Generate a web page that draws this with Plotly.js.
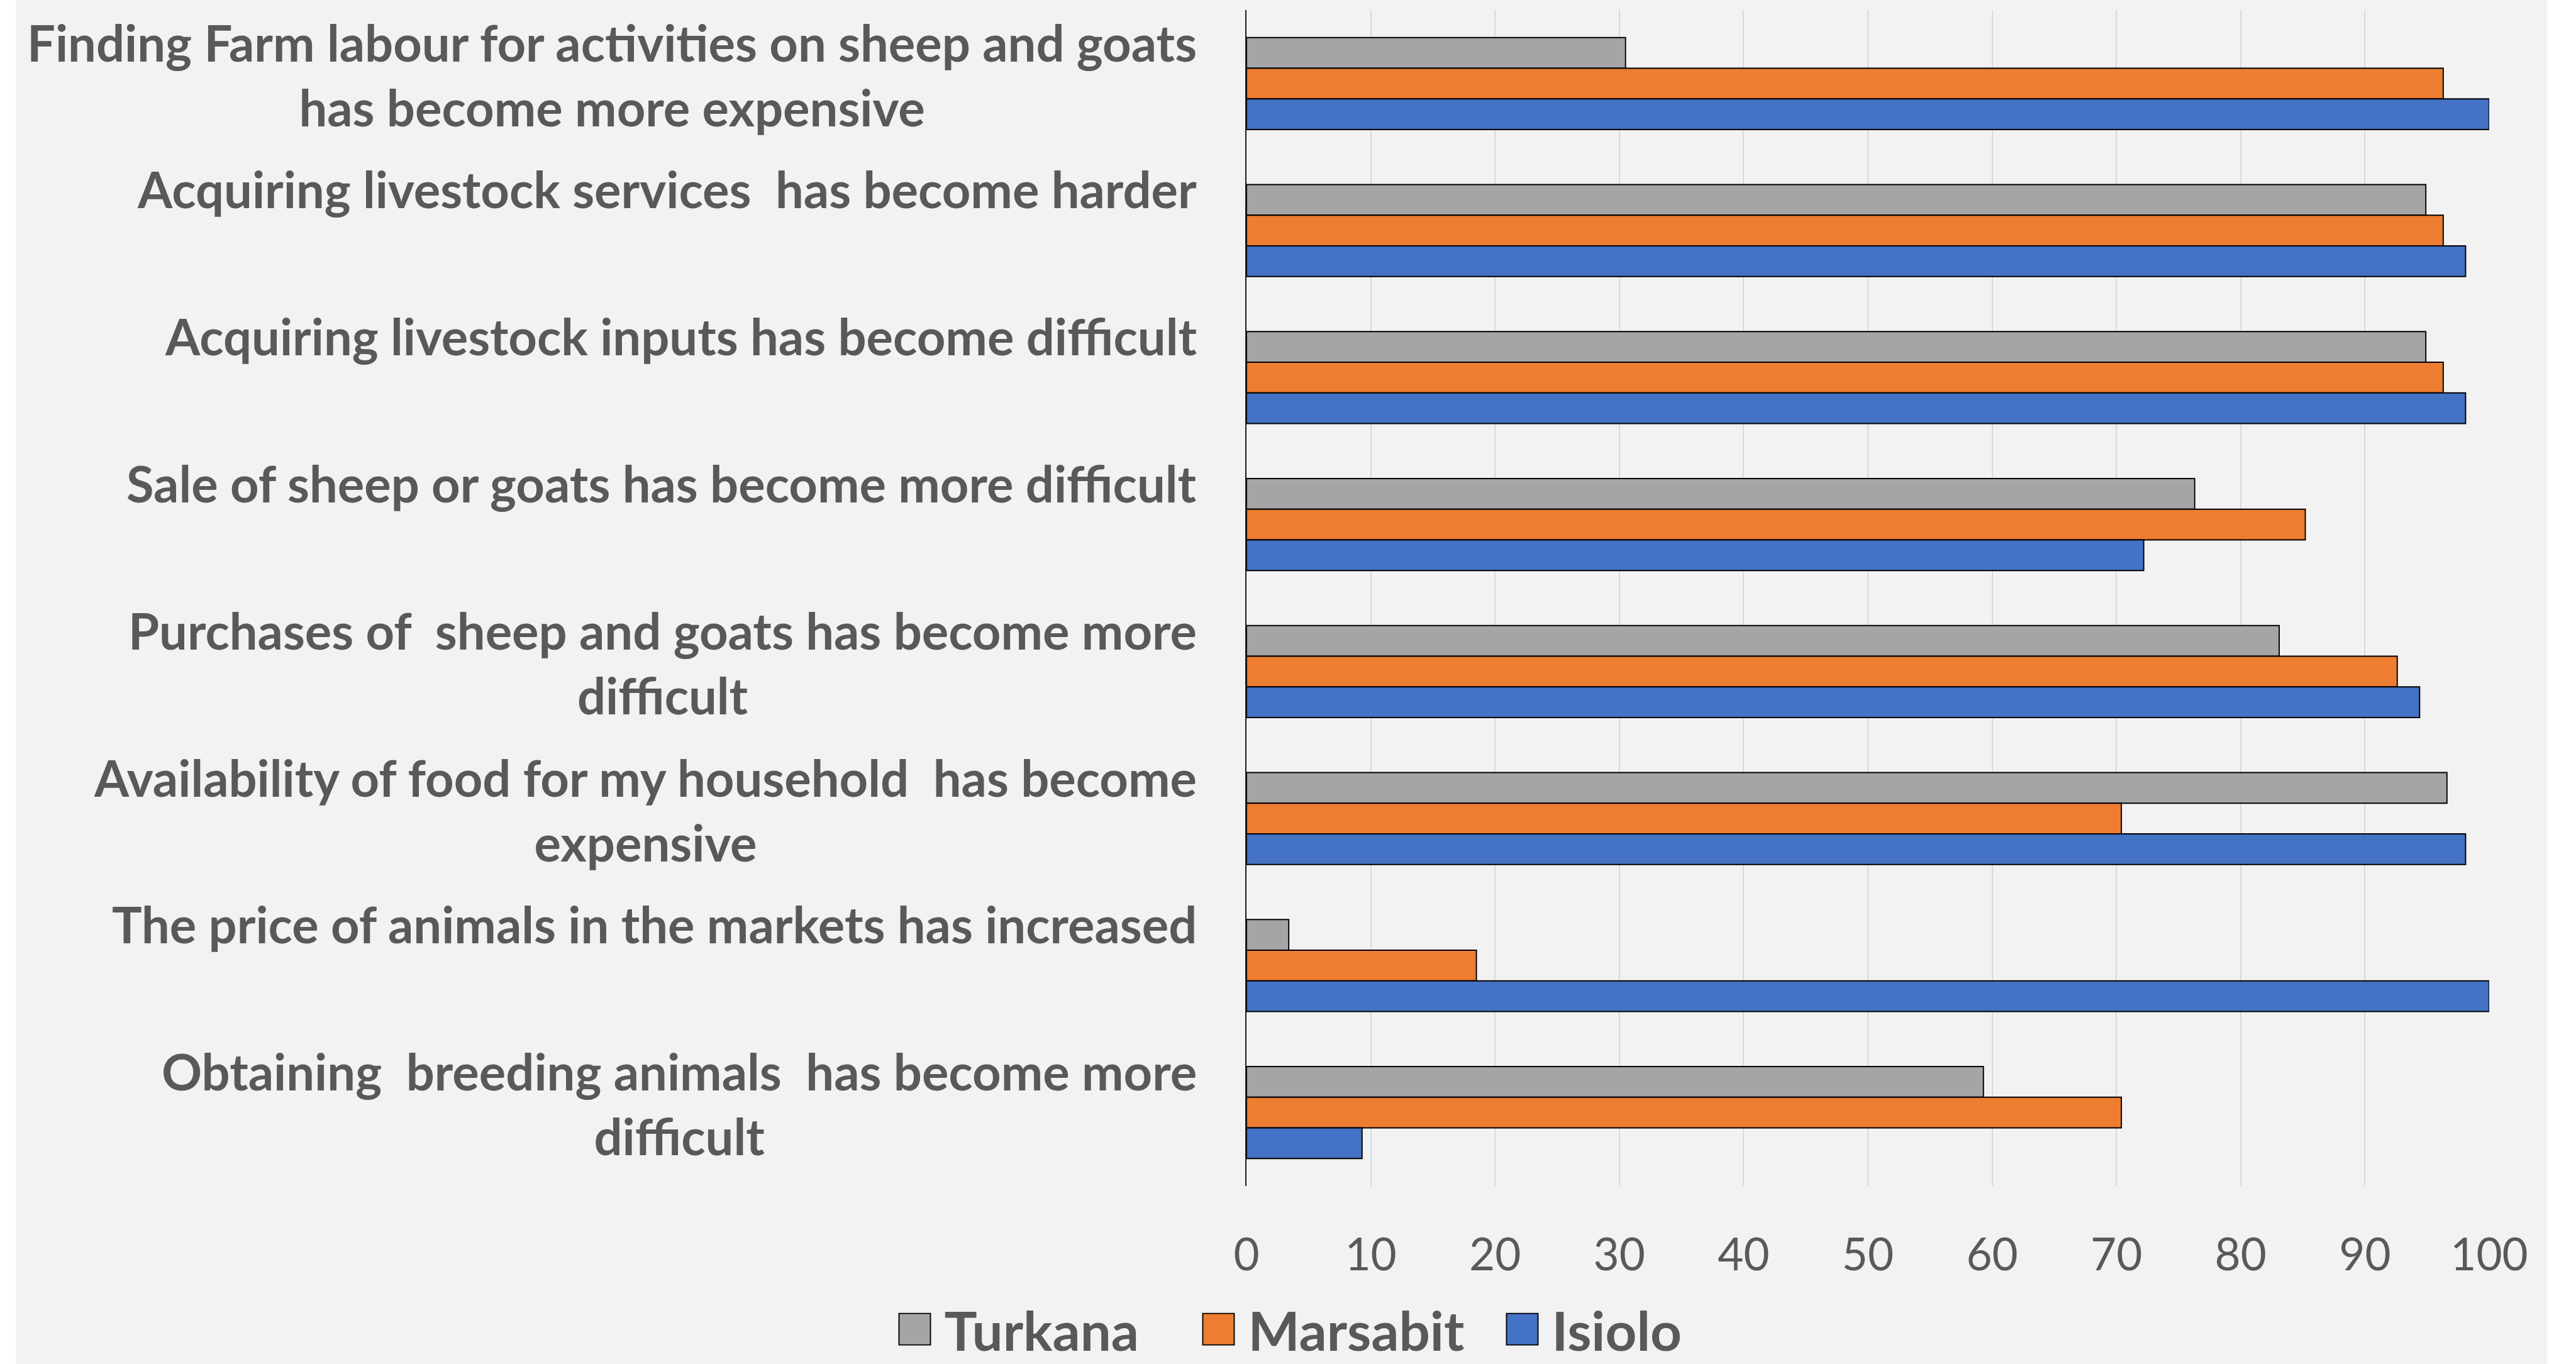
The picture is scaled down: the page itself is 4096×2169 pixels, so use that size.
<!DOCTYPE html>
<html>
<head>
<meta charset="utf-8">
<script src="https://cdn.plot.ly/plotly-3.0.1.min.js"></script>
<style>
  html, body { margin: 0; padding: 0; background: #ffffff; }
  #chart { width: 4096px; height: 2169px; }
</style>
</head>
<body>
<div id="chart"></div>
<script>
// ---- Data ----
const categories = [
  "Finding Farm labour for activities on sheep and goats<br>has become more expensive",
  "Acquiring livestock services  has become harder",
  "Acquiring livestock inputs has become difficult",
  "Sale of sheep or goats has become more difficult",
  "Purchases of  sheep and goats has become more<br>difficult",
  "Availability of food for my household  has become<br>expensive",
  "The price of animals in the markets has increased",
  "Obtaining  breeding animals  has become more<br>difficult"
];
const seriesNames = ["Turkana", "Marsabit", "Isiolo"];
const turkana  = [30.5, 94.9, 94.9, 76.3, 83.1, 96.6, 3.4, 59.3];
const marsabit = [96.3, 96.3, 96.3, 85.2, 92.6, 70.4, 18.5, 70.4];
const isiolo   = [100, 98.1, 98.1, 72.2, 94.4, 98.1, 100, 9.3];
const xTickValues = [0, 10, 20, 30, 40, 50, 60, 70, 80, 90, 100];

// ---- Styling ----
const colors = ["#A5A5A5", "#ED7D31", "#4472C4"];
const textGray = "#595959";
const FONT = "Lato, 'Open Sans', sans-serif";

const seriesValues = [turkana, marsabit, isiolo];
const traces = seriesNames.map((name, i) => ({
  type: "bar",
  orientation: "h",
  name: name,
  y: categories,
  x: seriesValues[i],
  marker: { color: colors[i], line: { color: "#000000", width: 1.9 } },
  hoverinfo: "x+y+name"
}));

// Category labels as annotations (right-aligned block, lines centred, like the source)
const annotations = categories.map(c => {
  const twoLines = c.indexOf("<br>") >= 0;
  return {
    xref: "paper", yref: "y",
    x: 0, y: c,
    xanchor: "right", yanchor: "middle",
    xshift: -77,
    yshift: twoLines ? 14 : 66,
    align: "center",
    showarrow: false,
    text: c,
    font: { family: FONT, size: 79.5, color: textGray, weight: 700 }
  };
});

const layout = {
  width: 4096,
  height: 2169,
  paper_bgcolor: "#ffffff",
  plot_bgcolor: "#F2F2F2",
  margin: { l: 1982, r: 138, t: 16, b: 283, autoexpand: false },
  barmode: "group",
  bargap: 0.374,
  bargroupgap: 0,
  showlegend: true,
  legend: {
    orientation: "h",
    xref: "container", yref: "container",
    x: 0.5205, xanchor: "center",
    y: 0.0253, yanchor: "middle",
    traceorder: "normal",
    itemwidth: 84,
    entrywidth: 384,
    font: { family: FONT, size: 87, color: textGray, weight: 700 },
    bgcolor: "rgba(0,0,0,0)"
  },
  xaxis: {
    range: [0, 100],
    tickmode: "array",
    tickvals: xTickValues,
    ticktext: xTickValues.map(String),
    showgrid: true,
    gridcolor: "#D9D9D9",
    gridwidth: 2,
    zeroline: false,
    showline: false,
    ticks: "",
    ticklabelstandoff: 62,
    tickfont: { family: FONT, size: 71, color: textGray }
  },
  yaxis: {
    type: "category",
    autorange: "reversed",
    showticklabels: false,
    showgrid: false,
    zeroline: false,
    showline: true,
    linecolor: "#1a1a1a",
    linewidth: 2,
    ticks: ""
  },
  shapes: [{
    type: "rect", xref: "paper", yref: "paper", layer: "below",
    x0: -0.99013, x1: 1.04657, y0: -0.2, y1: 1.1,
    fillcolor: "#F2F2F2", line: { width: 0 }
  }],
  annotations: annotations
};

Plotly.newPlot("chart", traces, layout, { displayModeBar: false, staticPlot: true }).then(gd => {
  // enlarge the legend swatches to the size used in the source
  gd.querySelectorAll(".legend .legendpoints path").forEach(p => {
    p.setAttribute("d", "M25,25H-25V-25H25Z");
  });
});
</script>
</body>
</html>
